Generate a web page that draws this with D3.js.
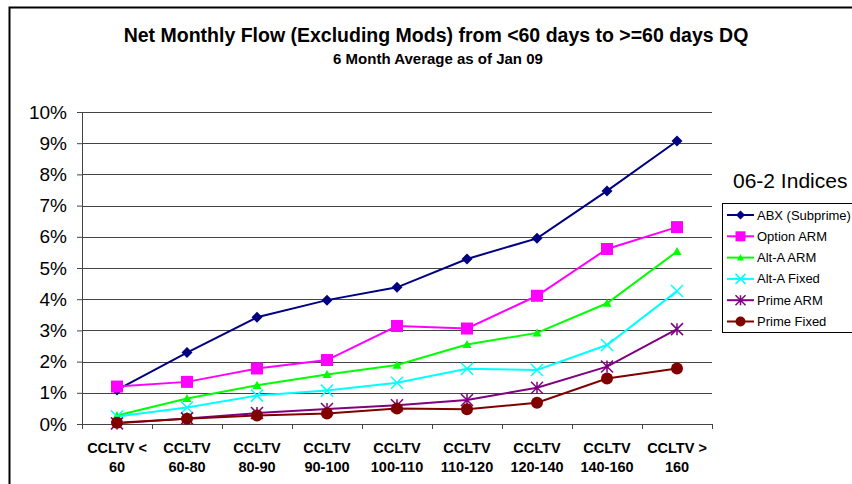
<!DOCTYPE html>
<html>
<head>
<meta charset="utf-8">
<script src="https://cdn.jsdelivr.net/npm/d3@7"></script>
<style>
  body { margin: 0; background: #fff; }
  svg { display: block; font-family: "Liberation Sans", Arial, sans-serif; }
</style>
</head>
<body>
<div class="svg-container"></div>
<script>
// Chart data
const categories = ['CCLTV < 60', 'CCLTV 60-80', 'CCLTV 80-90', 'CCLTV 90-100', 'CCLTV 100-110',
                    'CCLTV 110-120', 'CCLTV 120-140', 'CCLTV 140-160', 'CCLTV > 160'];
const catLines = [['CCLTV <', '60'], ['CCLTV', '60-80'], ['CCLTV', '80-90'], ['CCLTV', '90-100'],
                  ['CCLTV', '100-110'], ['CCLTV', '110-120'], ['CCLTV', '120-140'], ['CCLTV', '140-160'], ['CCLTV >', '160']];
const seriesNames = ['ABX (Subprime)', 'Option ARM', 'Alt-A ARM', 'Alt-A Fixed', 'Prime ARM', 'Prime Fixed'];
const abx        = [1.09, 2.29, 3.42, 3.97, 4.38, 5.29, 5.95, 7.47, 9.07];
const optionArm  = [1.20, 1.35, 1.78, 2.05, 3.14, 3.06, 4.11, 5.61, 6.31];
const altAArm    = [0.27, 0.82, 1.24, 1.59, 1.89, 2.55, 2.92, 3.87, 5.53];
const altAFixed  = [0.24, 0.53, 0.91, 1.07, 1.32, 1.77, 1.73, 2.53, 4.26];
const primeArm   = [0.02, 0.18, 0.35, 0.48, 0.60, 0.77, 1.16, 1.84, 3.04];
const primeFixed = [0.04, 0.17, 0.27, 0.34, 0.50, 0.47, 0.68, 1.46, 1.78];
const yTicks = [0, 1, 2, 3, 4, 5, 6, 7, 8, 9, 10];

const seriesValues = [abx, optionArm, altAArm, altAFixed, primeArm, primeFixed];
const colors = ['#000080', '#FF00FF', '#00FF00', '#00FFFF', '#800080', '#800000'];
const markers = ['diamond', 'square', 'triangle', 'x', 'star', 'circle'];

const W = 852, H = 484;
const margin = {top: 112, right: 140, bottom: 60, left: 82};
const width = W - margin.left - margin.right;   // 630
const height = H - margin.top - margin.bottom;  // 312

const svg = d3.select('.svg-container')
    .append('svg')
    .attr('width', W)
    .attr('height', H);

// outer chart border (only left and top visible)
svg.append('path')
    .attr('d', `M9.5,${H} V7.5 H${W}`)
    .attr('fill', 'none')
    .attr('stroke', '#000')
    .attr('stroke-width', 2);

// titles
svg.append('text')
    .attr('x', 436).attr('y', 42)
    .attr('text-anchor', 'middle')
    .style('font-size', '19.5px').style('font-weight', 'bold')
    .text('Net Monthly Flow (Excluding Mods) from <60 days to >=60 days DQ');
svg.append('text')
    .attr('x', 438).attr('y', 64)
    .attr('text-anchor', 'middle')
    .style('font-size', '15px').style('font-weight', 'bold')
    .text('6 Month Average as of Jan 09');

const g = svg.append('g')
    .attr('transform', `translate(${margin.left}, ${margin.top})`);

const x = d3.scaleBand()
    .domain(categories)
    .range([0, width]);

const y = d3.scaleLinear()
    .domain([0, 10])
    .range([height, 0]);

// gridlines
g.append('g')
    .selectAll('line')
    .data(yTicks.slice(1))
    .enter().append('line')
      .attr('x1', 0).attr('x2', width)
      .attr('y1', d => Math.round(y(d)) + 0.5)
      .attr('y2', d => Math.round(y(d)) + 0.5)
      .attr('stroke', '#444')
      .attr('stroke-width', 1);

// y axis
const yAxis = g.append('g')
    .call(d3.axisLeft(y).tickValues(yTicks).tickFormat(d => d + '%').tickSize(5).tickPadding(10));
yAxis.select('.domain').attr('stroke', '#444');
yAxis.selectAll('.tick line').attr('stroke', '#444');
yAxis.selectAll('text')
    .style('font-size', '19px')
    .style('font-family', '"Liberation Sans", Arial, sans-serif')
    .attr('fill', '#000');

// x axis
const xAxis = g.append('g')
    .attr('transform', `translate(0, ${height})`)
    .call(d3.axisBottom(x).tickSize(0).tickFormat(''));
xAxis.select('.domain').attr('stroke', '#444');

g.append('g')
    .selectAll('line')
    .data(d3.range(categories.length + 1))
    .enter().append('line')
      .attr('x1', i => Math.round(i * x.step()) + 0.5)
      .attr('x2', i => Math.round(i * x.step()) + 0.5)
      .attr('y1', height).attr('y2', height + 5)
      .attr('stroke', '#444');

const xLabels = g.append('g')
    .selectAll('text')
    .data(categories)
    .enter().append('text')
      .attr('x', d => x(d) + x.bandwidth() / 2)
      .attr('y', height + 29)
      .attr('text-anchor', 'middle')
      .style('font-size', '14.5px')
      .style('font-weight', 'bold');
xLabels.each(function(d, i) {
  const t = d3.select(this);
  catLines[i].forEach((line, j) => {
    t.append('tspan')
      .attr('x', x(d) + x.bandwidth() / 2)
      .attr('dy', j === 0 ? 0 : 18.5)
      .text(line);
  });
});

// markers
function drawMarker(sel, type, color, size) {
  if (type === 'diamond') {
    sel.append('path').attr('d', `M0,${-size} L${size},0 L0,${size} L${-size},0 Z`).attr('fill', color);
  } else if (type === 'square') {
    sel.append('rect').attr('x', -size).attr('y', -size).attr('width', size * 2).attr('height', size * 2).attr('fill', color);
  } else if (type === 'triangle') {
    sel.append('path').attr('d', `M0,${-size} L${size},${size * 0.8} L${-size},${size * 0.8} Z`).attr('fill', color);
  } else if (type === 'x') {
    sel.append('path').attr('d', `M${-size},${-size} L${size},${size} M${size},${-size} L${-size},${size}`)
      .attr('stroke', color).attr('stroke-width', 1.5);
  } else if (type === 'star') {
    sel.append('path').attr('d', `M${-size},${-size} L${size},${size} M${size},${-size} L${-size},${size} M0,${-size} L0,${size}`)
      .attr('stroke', color).attr('stroke-width', 1.5);
  } else if (type === 'circle') {
    sel.append('circle').attr('r', size).attr('fill', color);
  }
}
const markerSize = [5.5, 6, 4.5, 6, 6, 6];

const line = d3.line()
    .x((d, i) => x(categories[i]) + x.bandwidth() / 2)
    .y(d => y(d));

seriesValues.forEach((vals, s) => {
  g.append('path')
    .datum(vals)
    .attr('fill', 'none')
    .attr('stroke', colors[s])
    .attr('stroke-width', 2)
    .attr('d', line);
});
seriesValues.forEach((vals, s) => {
  vals.forEach((v, i) => {
    const m = g.append('g')
      .attr('transform', `translate(${x(categories[i]) + x.bandwidth() / 2}, ${y(v)})`);
    drawMarker(m, markers[s], colors[s], markerSize[s]);
  });
});

// legend
svg.append('text')
    .attr('x', 733).attr('y', 188)
    .style('font-size', '21px')
    .text('06-2 Indices');

const legend = svg.append('g').attr('transform', 'translate(722, 203)');
legend.append('rect')
    .attr('x', 0.5).attr('y', 0.5)
    .attr('width', 140).attr('height', 129)
    .attr('fill', '#fff')
    .attr('stroke', '#000');

const item = legend.selectAll('.legend')
    .data(seriesNames)
    .enter().append('g')
      .attr('class', 'legend')
      .attr('transform', (d, i) => `translate(0, ${12 + i * 21.3})`);
item.append('line')
    .attr('x1', 5).attr('x2', 32)
    .attr('stroke', (d, i) => colors[i])
    .attr('stroke-width', 2);
item.each(function(d, i) {
  const m = d3.select(this).append('g').attr('transform', 'translate(18.5, 0)');
  drawMarker(m, markers[i], colors[i], markerSize[i] - 1);
});
item.append('text')
    .attr('x', 35)
    .attr('dy', '0.35em')
    .style('font-size', '13px')
    .text(d => d);
</script>
</body>
</html>
